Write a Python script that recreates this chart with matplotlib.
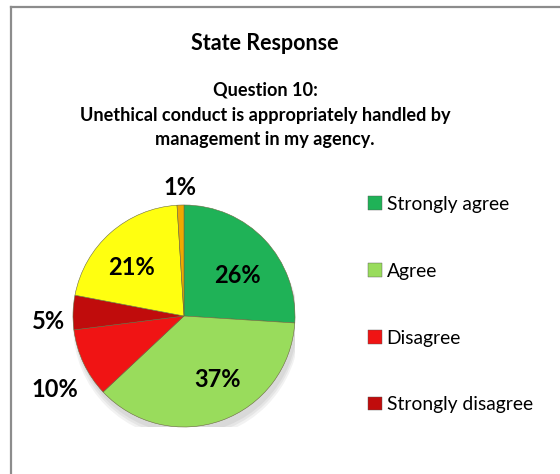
import numpy as np
import matplotlib
matplotlib.use("Agg")
import matplotlib.pyplot as plt
from matplotlib.patches import Circle, Rectangle
from matplotlib.lines import Line2D

plt.rcParams['font.family'] = ['Lato', 'DejaVu Sans']

# Survey responses, clockwise from 12 o'clock
categories = ["Strongly agree", "Agree", "Disagree", "Strongly disagree",
              "Neutral", "No response"]
shares = [26, 37, 10, 5, 21, 1]
legend_items = ["Strongly agree", "Agree", "Disagree", "Strongly disagree"]

colors = ["#1fb257", "#99dc5c", "#f01414", "#c00c0c", "#ffff10", "#f0a800"]
# label placement: radial distance (fraction of radius) and angular nudge (deg)
label_dist = [0.61, 0.65, 1.34, 1.22, 0.64, 1.16]
label_nudge = [-6, 8, 4.6, 4.3, 5.9, 0]

W, H = 560, 474
fig = plt.figure(figsize=(W / 100, H / 100), dpi=100)
fig.patch.set_facecolor("white")

# chart frame (top and left edges visible)
fig.add_artist(Line2D([11 / W, 1.0], [1 - 7 / H, 1 - 7 / H], color="#8c8c8c", lw=1.6))
fig.add_artist(Line2D([11 / W, 11 / W], [0.0, 1 - 7 / H], color="#8c8c8c", lw=1.6))

cx, cy, r = 184, 316, 111
ax = fig.add_axes([(cx - r) / W, (H - cy - r) / H, 2 * r / W, 2 * r / H])

# soft shadow under the pie
for k, a in enumerate([0.05, 0.05, 0.05]):
    ax.add_patch(Circle((0.02, -0.06 - 0.015 * k), 1.0 + 0.01 * k,
                        color="#000000", alpha=a, lw=0, zorder=0))

wedges, _ = ax.pie(shares, colors=colors, startangle=90, counterclock=False,
                   radius=1.0, wedgeprops=dict(edgecolor="#6a6a40", linewidth=0.4))
for w in wedges:
    w.set_zorder(2)

ax.set_xlim(-1, 1)
ax.set_ylim(-1, 1)
ax.set_aspect("equal")
ax.axis("off")

for w, val, d, nd in zip(wedges, shares, label_dist, label_nudge):
    mid = np.deg2rad((w.theta1 + w.theta2) / 2 + nd)
    ax.text(d * np.cos(mid), d * np.sin(mid), f"{val}%", ha="center", va="center",
            fontsize=17, fontweight="bold", color="black", zorder=5, clip_on=False)

# titles
fig.text(265 / W, 1 - 44 / H, "State Response", ha="center", va="center",
         fontsize=15.5, fontweight="bold")
fig.text(265 / W, 1 - 90 / H, "Question 10:", ha="center", va="center",
         fontsize=13.1, fontweight="bold")
fig.text(265 / W, 1 - 115 / H, "Unethical conduct is appropriately handled by",
         ha="center", va="center", fontsize=13.1, fontweight="bold")
fig.text(265 / W, 1 - 140 / H, "management in my agency.", ha="center", va="center",
         fontsize=13.1, fontweight="bold")

# legend (first four categories)
handles = [Rectangle((0, 0), 1, 1, facecolor=colors[categories.index(n)],
                     edgecolor="#555555", linewidth=0.3) for n in legend_items]
fig.legend(handles, legend_items, loc="upper left",
           bbox_to_anchor=(368 / W, 1 - 196 / H), frameon=False,
           fontsize=13.9, labelspacing=2.58, handlelength=0.7, handleheight=0.7,
           handletextpad=0.26, borderpad=0, borderaxespad=0)

fig.savefig("out.png", dpi=100, facecolor="white")
